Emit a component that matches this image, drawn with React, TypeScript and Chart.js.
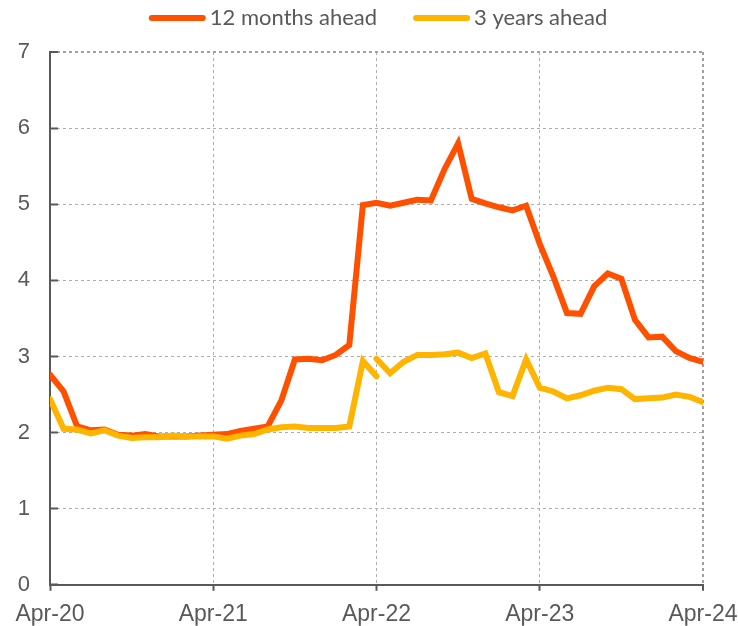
import React, { useEffect, useRef } from 'react';
import { Chart, registerables } from 'chart.js';

Chart.register(...registerables);

// Tick labels on the x axis (one every 12 months, month index 0 = Apr-20)
const tickLabels = ['Apr-20', 'Apr-21', 'Apr-22', 'Apr-23', 'Apr-24'];
const seriesNames = ['12 months ahead', '3 years ahead'];

// 12 months ahead, monthly Apr-20 .. Apr-24
const twelveMonthsAhead = [
  2.76, 2.54, 2.08, 2.03, 2.04, 1.97, 1.96, 1.98, 1.95, 1.95,
  1.95, 1.96, 1.97, 1.98, 2.02, 2.05, 2.08, 2.42, 2.96, 2.97,
  2.95, 3.02, 3.15, 4.99, 5.02, 4.98, 5.02, 5.06, 5.05, 5.46,
  5.8, 5.07, 5.01, 4.96, 4.92, 4.98, 4.48, 4.05, 3.57, 3.56,
  3.92, 4.09, 4.02, 3.48, 3.25, 3.26, 3.07, 2.98, 2.93,
];

// 3 years ahead, old basis Apr-20 .. Apr-22
const threeYearsAheadOld = [
  2.44, 2.05, 2.04, 1.99, 2.03, 1.96, 1.93, 1.94, 1.94, 1.96,
  1.95, 1.95, 1.95, 1.92, 1.96, 1.98, 2.04, 2.07, 2.08, 2.06,
  2.06, 2.06, 2.08, 2.94, 2.74,
];

// 3 years ahead, new basis Apr-22 .. Apr-24
const threeYearsAheadNew = [
  2.97, 2.78, 2.93, 3.02, 3.02, 3.03, 3.05, 2.98, 3.04, 2.53,
  2.48, 2.96, 2.59, 2.54, 2.45, 2.49, 2.55, 2.59, 2.57, 2.44,
  2.45, 2.46, 2.5, 2.47, 2.4,
];

const breakMonth = 24;

const RED = '#FF5000';
const YELLOW = '#FFB400';
const TEXT = '#595959';
const GRID = '#ADADAD';
const FRAME = '#A0A0A0';

export default function App() {
  const ref = useRef<HTMLCanvasElement | null>(null);

  useEffect(() => {
    if (!ref.current) return;

    const redData = twelveMonthsAhead.map((y, i) => ({ x: i, y }));
    const yellowData: { x: number; y: number | null }[] = [
      ...threeYearsAheadOld.map((y, i) => ({ x: i, y })),
      { x: breakMonth, y: null },
      ...threeYearsAheadNew.map((y, i) => ({ x: breakMonth + i, y })),
    ];

    const legendPlugin = {
      id: 'topLegend',
      afterDraw(chart: any) {
        const ctx = chart.ctx as CanvasRenderingContext2D;
        ctx.save();
        ctx.font = '22px Lato';
        const W = 51;
        const gap = 7;
        const spacing = 39;
        const items = chart.data.datasets.map((ds: any) => ({
          text: ds.label as string,
          color: ds.borderColor as string,
          w: ctx.measureText(ds.label).width,
        }));
        const total =
          items.reduce((s: number, it: any) => s + W + gap + it.w, 0) +
          spacing * (items.length - 1);
        let x = (chart.chartArea.left + chart.chartArea.right) / 2 + 3 - total / 2;
        items.forEach((it: any) => {
          ctx.strokeStyle = it.color;
          ctx.lineWidth = 6;
          ctx.lineCap = 'round';
          ctx.beginPath();
          ctx.moveTo(x, 18);
          ctx.lineTo(x + W, 18);
          ctx.stroke();
          ctx.fillStyle = TEXT;
          ctx.textAlign = 'left';
          ctx.textBaseline = 'alphabetic';
          ctx.fillText(it.text, x + W + gap, 25);
          x += W + gap + it.w + spacing;
        });
        ctx.restore();
      },
    };

    const chart = new Chart(ref.current, {
      type: 'line',
      data: {
        datasets: [
          {
            label: seriesNames[0],
            data: redData,
            borderColor: RED,
            backgroundColor: RED,
            borderWidth: 6,
            pointRadius: 0,
            tension: 0,
            order: 1,
            borderCapStyle: 'round',
          },
          {
            label: seriesNames[1],
            data: yellowData,
            borderColor: YELLOW,
            backgroundColor: YELLOW,
            borderWidth: 6,
            pointRadius: 0,
            tension: 0,
            order: 0,
            spanGaps: false,
            borderCapStyle: 'round',
          },
        ],
      },
      plugins: [legendPlugin],
      options: {
        responsive: false,
        animation: false,
        layout: { padding: { top: 52, right: 35, left: 0, bottom: 0 } },
        plugins: {
          legend: { display: false },
          tooltip: { enabled: false },
        },
        scales: {
          x: {
            type: 'linear',
            min: 0,
            max: 48,
            afterFit: (scale: any) => {
              scale.height = 41;
              scale.paddingLeft = 0;
              scale.paddingRight = 35;
            },
            ticks: {
              stepSize: 12,
              autoSkip: false,
              maxRotation: 0,
              padding: 10,
              color: TEXT,
              font: { family: 'Liberation Sans', size: 23 },
              callback: (v: any) => {
                const idx = Math.round(Number(v) / 12);
                return Number(v) % 12 === 0 ? tickLabels[idx] : '';
              },
            },
            grid: {
              color: (c: any) => {
                const v = c.tick ? c.tick.value : -1;
                if (v === 0) return 'rgba(0,0,0,0)';
                if (v === 48) return FRAME;
                return GRID;
              },
              lineWidth: (c: any) => (c.tick && c.tick.value === 48 ? 2 : 1),
              tickColor: TEXT,
              tickWidth: 2,
              tickLength: 6,
            },
            border: { display: true, color: TEXT, width: 2, dash: [3, 3] },
          },
          y: {
            type: 'linear',
            min: 0,
            max: 7,
            afterFit: (scale: any) => {
              scale.width = 50;
            },
            ticks: {
              stepSize: 1,
              padding: 28,
              color: TEXT,
              font: { family: 'Liberation Sans', size: 22 },
            },
            grid: {
              color: (c: any) => {
                const v = c.tick ? c.tick.value : -1;
                if (v === 0) return 'rgba(0,0,0,0)';
                if (v === 7) return FRAME;
                return GRID;
              },
              lineWidth: (c: any) => (c.tick && c.tick.value === 7 ? 2 : 1),
              tickColor: TEXT,
              tickWidth: 2,
              tickLength: -8,
            },
            border: { display: true, color: TEXT, width: 2, dash: [3, 3] },
          },
        },
      },
    } as any);

    return () => chart.destroy();
  }, []);

  return (
    <div style={{ position: 'absolute', left: 0, top: 0, width: 738, height: 626, background: '#fff' }}>
      <canvas ref={ref} width={738} height={626} style={{ width: 738, height: 626, display: 'block' }} />
    </div>
  );
}
